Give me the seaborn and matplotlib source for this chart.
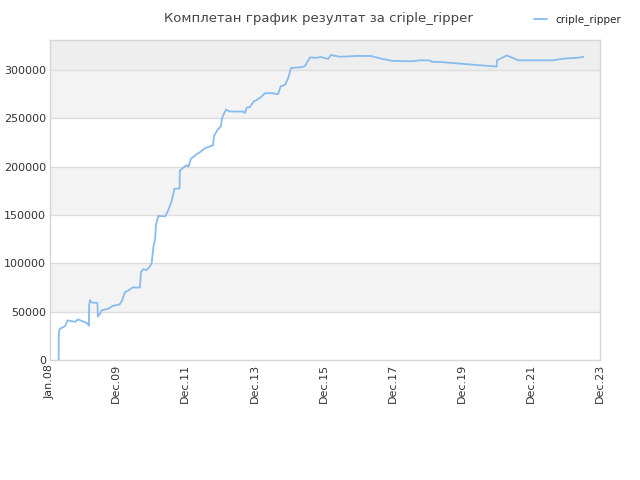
import matplotlib
matplotlib.use("Agg")
import matplotlib.pyplot as plt
import seaborn as sns
import pandas as pd

# data (months since Jan 2008, points)
months = [3.0, 3.05, 3.3, 5.2, 6.1, 8.7, 9.8, 11.3, 13.0, 13.5, 13.6, 13.9, 14.5, 16.5,
          16.6, 17.3, 18.0, 20.2, 21.8, 24.2, 25.1, 26.0, 27.8, 28.6, 31.2, 31.6, 32.4,
          33.5, 34.5, 35.3, 35.9, 36.5, 36.8, 37.6, 40.0, 41.1, 42.3, 43.2, 45.0, 45.1,
          46.3, 47.5, 48.1, 48.9, 51.0, 52.1, 53.8, 55.6, 56.6, 57.0, 58.2, 59.4, 59.7,
          61.1, 62.5, 67.0, 67.7, 68.3, 69.4, 70.6, 72.9, 74.7, 77.0, 79.2, 80.1, 81.6,
          82.7, 83.7, 87.4, 88.5, 90.3, 92.6, 93.8, 96.6, 97.5, 100.7, 106.5, 111.4,
          114.6, 118.6, 125.6, 128.5, 132.0, 132.6, 136.6, 140.6, 144.7, 148.7, 153.4,
          155.1, 155.2, 156.3, 158.6, 160.3, 162.6, 174.8, 176.5, 179.4, 182.9, 185.2]
points = [0, 26000, 32000, 35000, 41000, 39500, 42000, 40000, 38000, 35500, 57000, 62000,
          59500, 59000, 45000, 47500, 51500, 53000, 56000, 57500, 62000, 70000, 73000,
          75000, 75000, 91000, 94000, 93000, 96000, 100000, 117000, 125000, 140000,
          149000, 148500, 155000, 165000, 177000, 177500, 196000, 199000, 201500, 200000,
          208000, 213000, 215000, 219000, 221000, 222000, 232000, 238000, 242000, 250000,
          259000, 257000, 257000, 255500, 261000, 261500, 267000, 271000, 276000, 276000,
          275000, 283000, 284500, 291500, 302000, 303000, 304000, 313000, 312500, 313500,
          311500, 315500, 313700, 314500, 314500, 312000, 309500, 309000, 310000, 309800,
          308500, 308000, 307000, 306000, 305000, 304000, 303500, 310000, 311500, 315000,
          313000, 310000, 310000, 311000, 312000, 312500, 313500]

tick_months = [0, 23, 47, 71, 95, 119, 143, 167, 191]
tick_labels = ["Jan.08", "Dec.09", "Dec.11", "Dec.13", "Dec.15", "Dec.17", "Dec.19", "Dec.21", "Dec.23"]
y_ticks = [0, 50000, 100000, 150000, 200000, 250000, 300000]
y_top = 331000

title = "Комплетан график резултат за criple_ripper"
player = "criple_ripper"

df = pd.DataFrame({"month": months, "points": points})

sns.set_theme(style="white")
plt.rcParams["font.family"] = ["DejaVu Sans"]

fig = plt.figure(figsize=(6.4, 4.8), dpi=100)
ax = fig.add_axes([50 / 640, 120 / 480, 550 / 640, 320 / 480])

# alternating bands
for i in range(len(y_ticks)):
    lo = y_ticks[i]
    hi = y_ticks[i + 1] if i + 1 < len(y_ticks) else y_top
    if i == len(y_ticks) - 1:
        ax.axhspan(lo, hi, color="#eeeeee", zorder=0, lw=0)
    elif i % 2 == 1:
        ax.axhspan(lo, hi, color="#f3f3f3", zorder=0, lw=0)
for t in y_ticks[1:]:
    ax.axhline(t, color="#dddddd", lw=1, zorder=1)

sns.lineplot(data=df, x="month", y="points", color="#88bbee", lw=1.3,
             label=player, ax=ax, zorder=3, sort=False)

ax.set_xlim(0, 191)
ax.set_ylim(0, y_top)
ax.set_xticks(tick_months)
ax.set_xticklabels(tick_labels, rotation=90)
ax.set_yticks(y_ticks)
ax.set_yticklabels([str(v) for v in y_ticks])
ax.tick_params(axis="both", labelsize=8, colors="#333333", length=0, pad=3)
ax.set_xlabel("")
ax.set_ylabel("")
for s in ax.spines.values():
    s.set_color("#d6d6d6")
    s.set_linewidth(1)

fig.text(0.497, 0.975, title, ha="center", va="top", fontsize=9.5, color="#444444")
ax.get_legend().remove()
fig.legend(loc="upper right", bbox_to_anchor=(0.985, 0.99), frameon=False,
           fontsize=7.5, handlelength=1.2, handletextpad=0.8)

fig.savefig("out.png", dpi=100)
